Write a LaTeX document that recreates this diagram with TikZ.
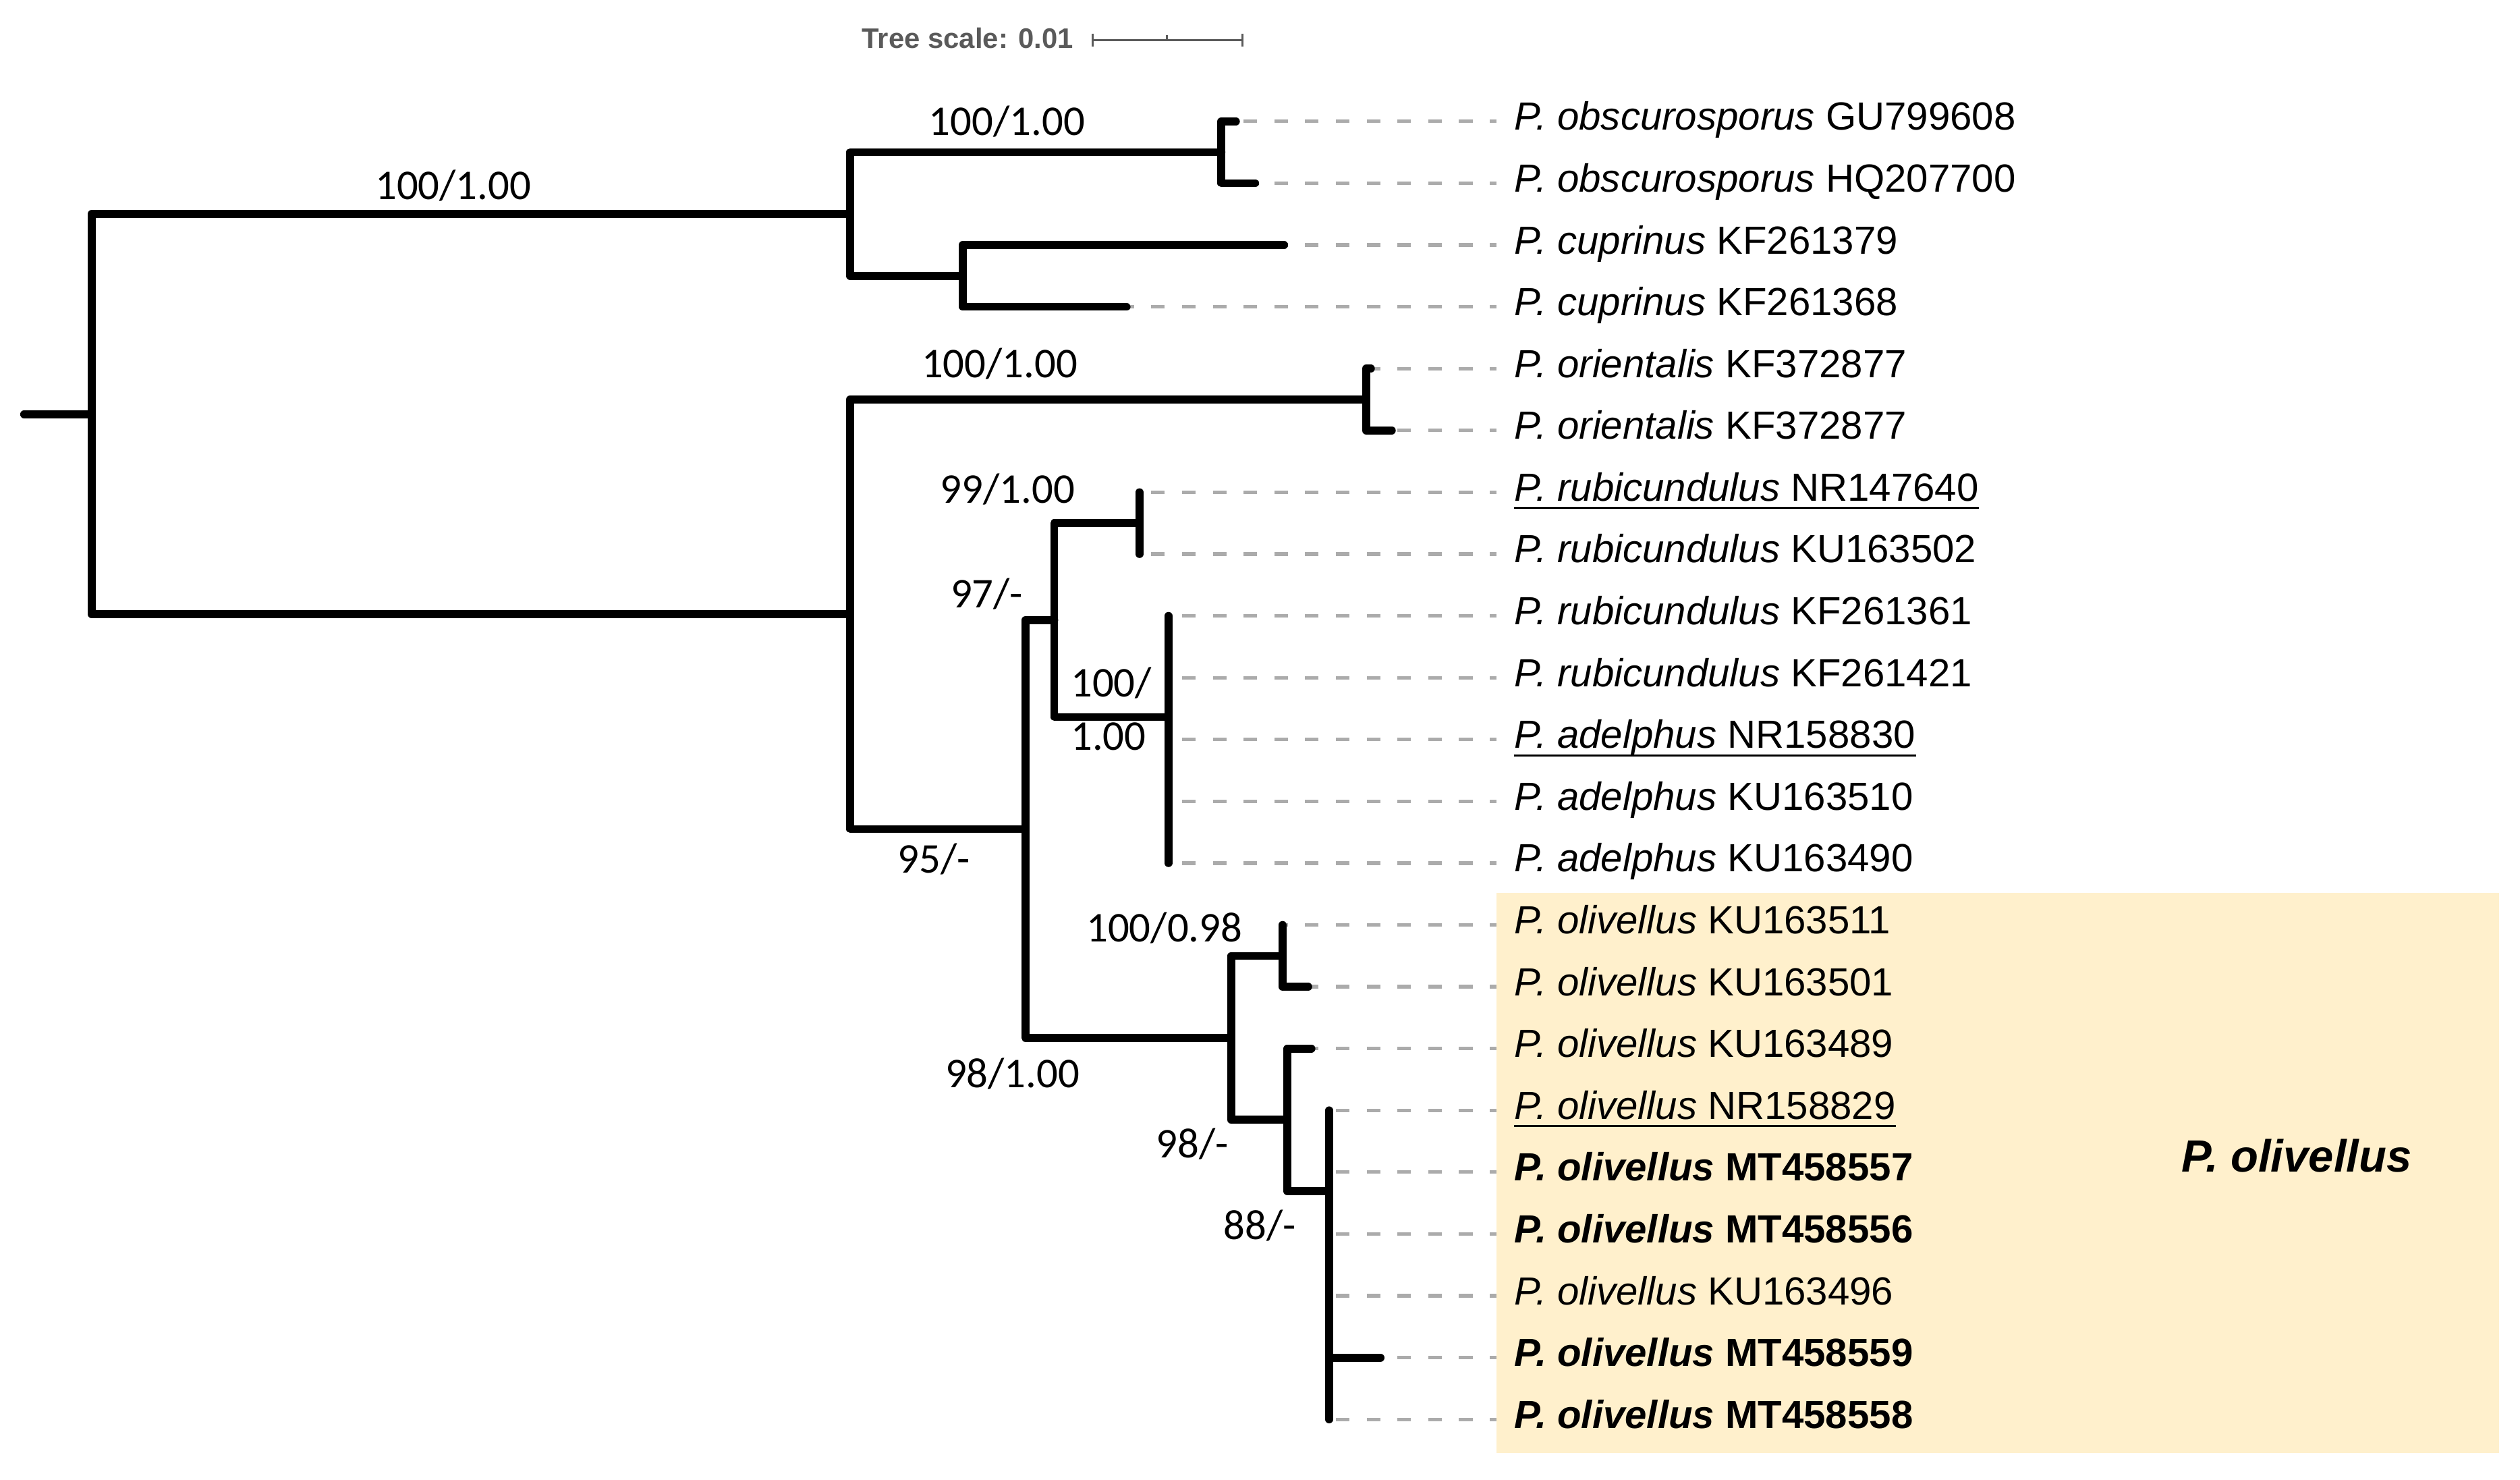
\documentclass[tikz,border=0pt]{standalone}
\usepackage{fontspec}
\setmainfont{Liberation Sans}
\newfontfamily\bsfont{Carlito}
\definecolor{cladebg}{RGB}{255,240,204}
\definecolor{scalegray}{RGB}{90,90,90}
\newcommand{\taxon}[2]{\textit{#1} #2}
\begin{document}
\begin{tikzpicture}
	[x=0.02cm, y=-0.02cm,
	branch/.style={line width=2.8pt, line cap=round, line join=round},
	leader/.style={draw=black!33, line width=1.25pt, dash pattern=on 4.8pt off 6.1pt, dash phase=2.5pt},
	taxon/.style={anchor=base west, inner sep=0pt, yshift=-3.1pt, font=\fontsize{13.9}{16}\selectfont},
	support/.style={anchor=base, inner sep=0pt, font=\bsfont\fontsize{15}{17}\selectfont},
	uline/.style={line width=0.7pt},
	scalebar/.style={draw=scalegray, line width=0.8pt}]
	\useasboundingbox (0,0) rectangle (1568,920.6);
	% clade highlight
	\fill[cladebg] (931,555.4) rectangle (1555,904);
	% tree scale
	\node[anchor=base west, inner sep=0pt, text=scalegray, font=\fontsize{10}{12}\selectfont\bfseries] (scale) at (536,30) {Tree scale: 0.01};
	\coordinate (sb0) at (680,25);
	\coordinate (sbm) at (726,25);
	\coordinate (sb1) at (773,25);
	\draw[scalebar] (sb0) -- (sb1);
	\draw[scalebar] ([yshift=2.3pt]sb0) -- ([yshift=-2.3pt]sb0);
	\draw[scalebar] ([yshift=2.3pt]sb1) -- ([yshift=-2.3pt]sb1);
	\draw[scalebar] ([yshift=1.7pt]sbm) -- (sbm);
	% tips
	\coordinate (e1) at (769,75.5);
	\coordinate (e2) at (781,113.95);
	\coordinate (e3) at (799,152.4);
	\coordinate (e4) at (701,190.85);
	\coordinate (e5) at (853,229.3);
	\coordinate (e6) at (866,267.75);
	\coordinate (e7) at (709,306.2);
	\coordinate (e8) at (709,344.65);
	\coordinate (e9) at (727,383.1);
	\coordinate (e10) at (727,421.55);
	\coordinate (e11) at (727,460);
	\coordinate (e12) at (727,498.45);
	\coordinate (e13) at (727,536.9);
	\coordinate (e14) at (798,575.35);
	\coordinate (e15) at (814,613.8);
	\coordinate (e16) at (816,652.25);
	\coordinate (e17) at (827,690.7);
	\coordinate (e18) at (827,729.15);
	\coordinate (e19) at (827,767.6);
	\coordinate (e20) at (827,806.05);
	\coordinate (e21) at (859,844.5);
	\coordinate (e22) at (827,882.95);
	% inner nodes
	\coordinate (stub) at (15,257.7);
	\coordinate (root) at (57,257.7);
	\coordinate (nA) at (529,133.2);
	\coordinate (nA1) at (760,94.7);
	\coordinate (nA2) at (599,171.6);
	\coordinate (nB) at (529,382.1);
	\coordinate (nB1) at (850,248.5);
	\coordinate (nC) at (638,515.7);
	\coordinate (nD) at (656,385.7);
	\coordinate (nD1) at (709,325.4);
	\coordinate (nD2) at (727,446);
	\coordinate (nE) at (766,645.6);
	\coordinate (nE1) at (798,594.6);
	\coordinate (nF) at (801,696.6);
	\coordinate (nG) at (827,741);
	\coordinate (lx) at (931,0);
	\coordinate (lab) at (942,0);
	% leaders
	\foreach \i in {1,...,22}
		\draw[leader] (e\i -| lx) -- (e\i);
	% branches
	\draw[branch] (stub) -- (root);
	\draw[branch] (root) |- (nA);
	\draw[branch] (root) |- (nB);
	\draw[branch] (nA) |- (nA1);
	\draw[branch] (nA) |- (nA2);
	\draw[branch] (nA1) |- (e1);
	\draw[branch] (nA1) |- (e2);
	\draw[branch] (nA2) |- (e3);
	\draw[branch] (nA2) |- (e4);
	\draw[branch] (nB) |- (nB1);
	\draw[branch] (nB) |- (nC);
	\draw[branch] (nB1) |- (e5);
	\draw[branch] (nB1) |- (e6);
	\draw[branch] (nC) |- (nD);
	\draw[branch] (nC) |- (nE);
	\draw[branch] (nD) |- (nD1);
	\draw[branch] (nD) |- (nD2);
	\draw[branch] (nD1) |- (e7);
	\draw[branch] (nD1) |- (e8);
	\draw[branch] (nD2) |- (e9);
	\draw[branch] (nD2) |- (e13);
	\draw[branch] (nE) |- (nE1);
	\draw[branch] (nE) |- (nF);
	\draw[branch] (nE1) |- (e14);
	\draw[branch] (nE1) |- (e15);
	\draw[branch] (nF) |- (e16);
	\draw[branch] (nF) |- (nG);
	\draw[branch] (nG) |- (e17);
	\draw[branch] (nG) |- (e21);
	\draw[branch] (nG) |- (e22);
	% support values
	\node[support] (s1) at (282,124) {100/1.00};
	\node[support] (s2) at (626.5,84) {100/1.00};
	\node[support] (s3) at (622,235) {100/1.00};
	\node[support] (s4) at (627,312.8) {99/1.00};
	\node[support] (s5) at (614,378) {97/-};
	\node[support, anchor=base west] (s6) at (666,433.6) {100/};
	\node[support, anchor=base west] (s7) at (666,466.5) {1.00};
	\node[support] (s8) at (581,543) {95/-};
	\node[support] (s9) at (724.5,585.8) {100/0.98};
	\node[support] (s10) at (630,676.5) {98/1.00};
	\node[support] (s11) at (742,720) {98/-};
	\node[support] (s12) at (784,770.9) {88/-};
	% taxa
	\node[taxon] (t1) at (e1 -| lab) {\taxon{P. obscurosporus}{GU799608}};
	\node[taxon] (t2) at (e2 -| lab) {\taxon{P. obscurosporus}{HQ207700}};
	\node[taxon] (t3) at (e3 -| lab) {\taxon{P. cuprinus}{KF261379}};
	\node[taxon] (t4) at (e4 -| lab) {\taxon{P. cuprinus}{KF261368}};
	\node[taxon] (t5) at (e5 -| lab) {\taxon{P. orientalis}{KF372877}};
	\node[taxon] (t6) at (e6 -| lab) {\taxon{P. orientalis}{KF372877}};
	\node[taxon] (t7) at (e7 -| lab) {\taxon{P. rubicundulus}{NR147640}};
	\node[taxon] (t8) at (e8 -| lab) {\taxon{P. rubicundulus}{KU163502}};
	\node[taxon] (t9) at (e9 -| lab) {\taxon{P. rubicundulus}{KF261361}};
	\node[taxon] (t10) at (e10 -| lab) {\taxon{P. rubicundulus}{KF261421}};
	\node[taxon] (t11) at (e11 -| lab) {\taxon{P. adelphus}{NR158830}};
	\node[taxon] (t12) at (e12 -| lab) {\taxon{P. adelphus}{KU163510}};
	\node[taxon] (t13) at (e13 -| lab) {\taxon{P. adelphus}{KU163490}};
	\node[taxon] (t14) at (e14 -| lab) {\taxon{P. olivellus}{KU163511}};
	\node[taxon] (t15) at (e15 -| lab) {\taxon{P. olivellus}{KU163501}};
	\node[taxon] (t16) at (e16 -| lab) {\taxon{P. olivellus}{KU163489}};
	\node[taxon] (t17) at (e17 -| lab) {\taxon{P. olivellus}{NR158829}};
	\node[taxon] (t18) at (e18 -| lab) {\bfseries\taxon{P. olivellus}{MT458557}};
	\node[taxon] (t19) at (e19 -| lab) {\bfseries\taxon{P. olivellus}{MT458556}};
	\node[taxon] (t20) at (e20 -| lab) {\taxon{P. olivellus}{KU163496}};
	\node[taxon] (t21) at (e21 -| lab) {\bfseries\taxon{P. olivellus}{MT458559}};
	\node[taxon] (t22) at (e22 -| lab) {\bfseries\taxon{P. olivellus}{MT458558}};
	% type sequences
	\draw[uline] ([yshift=-2.5pt]t7.base west) -- ([yshift=-2.5pt]t7.base east);
	\draw[uline] ([yshift=-2.5pt]t11.base west) -- ([yshift=-2.5pt]t11.base east);
	\draw[uline] ([yshift=-2.5pt]t17.base west) -- ([yshift=-2.5pt]t17.base east);
	% clade
	\node[anchor=base west, inner sep=0pt, font=\fontsize{16}{19}\selectfont\bfseries\itshape] (clade) at (1357,729) {P. olivellus};
\end{tikzpicture}
\end{document}
